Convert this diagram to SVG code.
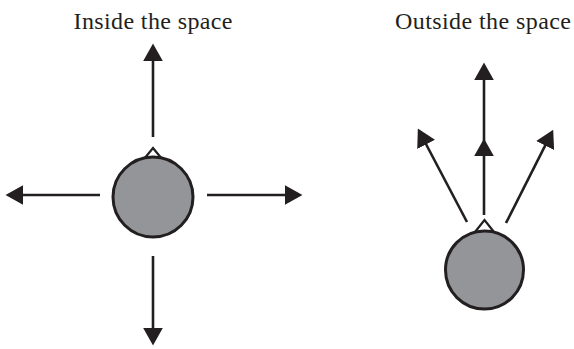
<svg xmlns="http://www.w3.org/2000/svg" width="574" height="349" viewBox="0 0 574 349">
<style>
.lbl{font-family:"Liberation Serif","Times New Roman",serif;font-size:24px;fill:#231f20;text-anchor:middle}
.ln{stroke:#231f20;stroke-width:2.6;fill:none;marker-end:url(#ah)}
.ball{fill:#939598;stroke:#231f20;stroke-width:3}
.tip{fill:#fff;stroke:#231f20;stroke-width:2.2;stroke-linejoin:miter}
</style>
<defs>
<marker id="ah" markerUnits="userSpaceOnUse" markerWidth="18" markerHeight="20" viewBox="0 0 16 18" refX="12" refY="9" orient="auto">
<path d="M0,0 L16,9 L0,18 z" fill="#231f20"/>
</marker>
</defs>
<g id="title-inside"><text class="lbl" x="153" y="29" textLength="159" lengthAdjust="spacing">Inside the space</text></g>
<g id="title-outside"><text class="lbl" x="483" y="29" textLength="176" lengthAdjust="spacing">Outside the space</text></g>
<g id="connectors">
<line class="ln" x1="153" y1="137" x2="153" y2="48"/>
<line class="ln" x1="153" y1="256" x2="153" y2="341"/>
<line class="ln" x1="100" y1="195" x2="10" y2="195"/>
<line class="ln" x1="207" y1="195" x2="298" y2="195"/>
<polyline class="ln" points="484,215 484,143 484,67" style="marker-mid:url(#ah)"/>
<line class="ln" x1="467" y1="222" x2="419.9" y2="132.5"/>
<line class="ln" x1="506" y1="223" x2="551.2" y2="133.6"/>
</g>
<g id="inside-node">
<polygon class="tip" points="144,159 153,148 162,159"/>
<circle class="ball" cx="153" cy="197" r="40"/>
</g>
<g id="outside-node">
<polygon class="tip" points="475,232 484.5,220 494,232"/>
<circle class="ball" cx="484.5" cy="270" r="39"/>
</g>
</svg>
